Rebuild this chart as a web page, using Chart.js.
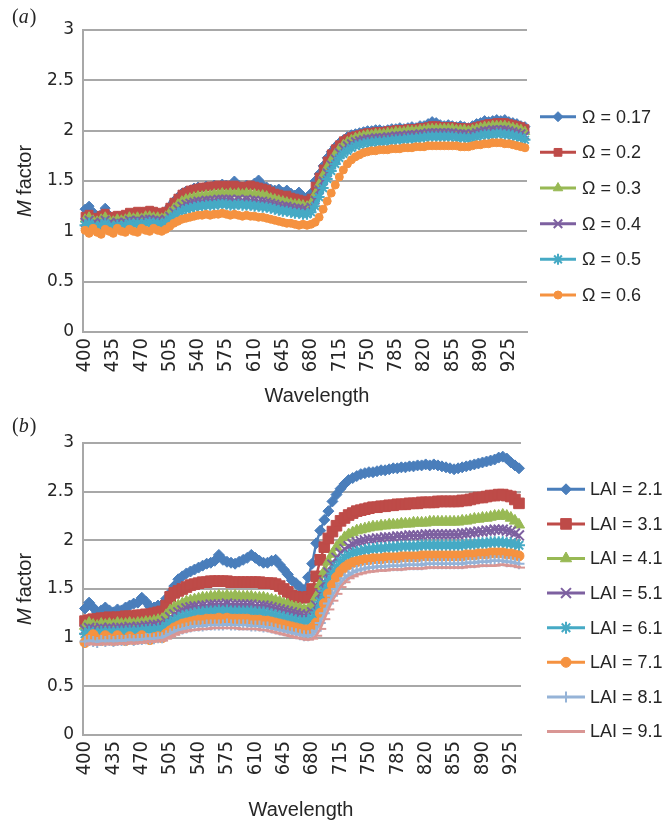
<!DOCTYPE html>
<html><head><meta charset="utf-8">
<script src="https://cdn.jsdelivr.net/npm/chart.js@4.4.1/dist/chart.umd.min.js"></script>
<style>
html,body{margin:0;padding:0;background:#fff;}
#wrap{position:relative;width:663px;height:820px;overflow:hidden;background:#fff;}
canvas{position:absolute;left:0;}
#ca{top:0;} #cb{top:410px;}
</style></head><body>
<div id="wrap"><canvas id="ca" width="663" height="410"></canvas><canvas id="cb" width="663" height="410"></canvas></div>
<script>
// ---------- categories ----------
const wavelengthsA = [400,405,410,415,420,425,430,435,440,445,450,455,460,465,470,475,480,485,490,495,500,505,510,515,520,525,530,535,540,545,550,555,560,565,570,575,580,585,590,595,600,605,610,615,620,625,630,635,640,645,650,655,660,665,670,675,680,685,690,695,700,705,710,715,720,725,730,735,740,745,750,755,760,765,770,775,780,785,790,795,800,805,810,815,820,825,830,835,840,845,850,855,860,865,870,875,880,885,890,895,900,905,910,915,920,925,930,935,940,945];
const wavelengthsB = [400,405,410,415,420,425,430,435,440,445,450,455,460,465,470,475,480,485,490,495,500,505,510,515,520,525,530,535,540,545,550,555,560,565,570,575,580,585,590,595,600,605,610,615,620,625,630,635,640,645,650,655,660,665,670,675,680,685,690,695,700,705,710,715,720,725,730,735,740,745,750,755,760,765,770,775,780,785,790,795,800,805,810,815,820,825,830,835,840,845,850,855,860,865,870,875,880,885,890,895,900,905,910,915,920,925,930,935];
const xTickLabels = ['400','435','470','505','540','575','610','645','680','715','750','785','820','855','890','925'];
const yTickLabels = ['0','0.5','1','1.5','2','2.5','3'];

// ---------- panel (a): M factor vs wavelength for clumping index ----------
const omegaLabels = ['Ω = 0.17','Ω = 0.2','Ω = 0.3','Ω = 0.4','Ω = 0.5','Ω = 0.6'];
const omega017 = [1.22,1.25,1.19,1.15,1.17,1.23,1.16,1.13,1.15,1.12,
 1.14,1.16,1.15,1.17,1.16,1.18,1.17,1.19,1.18,1.17,
 1.2,1.25,1.3,1.34,1.38,1.4,1.41,1.43,1.44,1.43,
 1.45,1.44,1.46,1.45,1.47,1.46,1.44,1.5,1.46,1.44,
 1.46,1.45,1.48,1.51,1.46,1.44,1.42,1.41,1.42,1.39,
 1.41,1.38,1.36,1.39,1.35,1.34,1.38,1.5,1.57,1.65,
 1.73,1.79,1.84,1.88,1.91,1.94,1.96,1.97,1.98,1.99,
 2.0,2.0,2.01,2.01,2.0,2.01,2.02,2.02,2.03,2.02,
 2.03,2.04,2.03,2.05,2.05,2.07,2.09,2.08,2.06,2.05,
 2.06,2.05,2.04,2.05,2.04,2.03,2.05,2.07,2.08,2.1,
 2.09,2.1,2.11,2.1,2.11,2.09,2.08,2.07,2.05,2.04];
const omega02 = [1.15,1.17,1.14,1.13,1.16,1.18,1.15,1.14,1.16,1.15,
 1.17,1.19,1.18,1.2,1.19,1.2,1.21,1.2,1.19,1.18,
 1.2,1.24,1.29,1.33,1.37,1.39,1.41,1.42,1.43,1.44,
 1.44,1.45,1.45,1.46,1.45,1.46,1.45,1.46,1.45,1.44,
 1.45,1.46,1.45,1.44,1.43,1.42,1.4,1.38,1.37,1.35,
 1.36,1.34,1.33,1.32,1.31,1.3,1.33,1.45,1.54,1.62,
 1.7,1.77,1.82,1.86,1.9,1.92,1.94,1.95,1.96,1.97,
 1.98,1.98,1.99,1.99,1.99,2.0,2.0,2.01,2.01,2.01,
 2.02,2.02,2.02,2.03,2.03,2.04,2.05,2.05,2.04,2.04,
 2.04,2.04,2.03,2.03,2.03,2.02,2.03,2.04,2.05,2.06,
 2.07,2.07,2.08,2.08,2.08,2.07,2.06,2.05,2.04,2.02];
const omega03 = [1.12,1.14,1.11,1.1,1.12,1.14,1.11,1.1,1.12,1.11,
 1.12,1.14,1.13,1.14,1.13,1.15,1.15,1.14,1.14,1.13,
 1.15,1.19,1.23,1.27,1.3,1.32,1.33,1.34,1.35,1.35,
 1.36,1.36,1.37,1.37,1.38,1.37,1.38,1.37,1.38,1.37,
 1.38,1.37,1.37,1.36,1.36,1.35,1.33,1.32,1.31,1.3,
 1.29,1.28,1.27,1.27,1.26,1.25,1.28,1.37,1.47,1.56,
 1.64,1.71,1.77,1.82,1.86,1.89,1.91,1.93,1.94,1.95,
 1.96,1.96,1.97,1.97,1.97,1.98,1.98,1.99,1.99,1.99,
 2.0,2.0,2.0,2.01,2.01,2.02,2.02,2.02,2.02,2.02,
 2.02,2.02,2.01,2.01,2.01,2.0,2.01,2.02,2.03,2.04,
 2.04,2.05,2.05,2.05,2.05,2.04,2.03,2.02,2.01,1.99];
const omega04 = [1.09,1.11,1.08,1.07,1.09,1.11,1.08,1.07,1.09,1.08,
 1.09,1.11,1.1,1.11,1.1,1.12,1.12,1.11,1.11,1.1,
 1.12,1.15,1.19,1.22,1.25,1.27,1.28,1.29,1.3,1.3,
 1.31,1.31,1.31,1.32,1.32,1.32,1.32,1.31,1.32,1.31,
 1.32,1.31,1.31,1.3,1.3,1.29,1.28,1.27,1.26,1.25,
 1.25,1.24,1.23,1.23,1.22,1.21,1.24,1.31,1.41,1.5,
 1.58,1.66,1.72,1.78,1.82,1.85,1.87,1.89,1.9,1.91,
 1.92,1.92,1.93,1.93,1.93,1.94,1.94,1.95,1.95,1.95,
 1.96,1.96,1.96,1.97,1.97,1.98,1.98,1.98,1.98,1.98,
 1.98,1.98,1.97,1.97,1.97,1.96,1.97,1.98,1.99,2.0,
 2.0,2.01,2.01,2.01,2.01,2.0,1.99,1.98,1.97,1.95];
const omega05 = [1.06,1.08,1.05,1.04,1.06,1.08,1.05,1.04,1.06,1.05,
 1.06,1.08,1.07,1.08,1.07,1.08,1.09,1.08,1.08,1.07,
 1.09,1.12,1.15,1.18,1.2,1.22,1.23,1.24,1.25,1.25,
 1.26,1.26,1.26,1.27,1.27,1.27,1.26,1.26,1.27,1.26,
 1.26,1.26,1.25,1.25,1.24,1.24,1.23,1.22,1.21,1.2,
 1.2,1.19,1.18,1.18,1.17,1.17,1.19,1.25,1.34,1.43,
 1.52,1.6,1.67,1.73,1.77,1.8,1.83,1.85,1.86,1.87,
 1.88,1.88,1.89,1.89,1.89,1.9,1.9,1.91,1.91,1.91,
 1.92,1.92,1.92,1.93,1.93,1.94,1.94,1.94,1.94,1.94,
 1.94,1.94,1.93,1.93,1.93,1.92,1.93,1.94,1.95,1.96,
 1.96,1.96,1.97,1.97,1.96,1.96,1.95,1.94,1.93,1.91];
const omega06 = [1.01,0.98,1.03,0.99,0.97,1.02,1.0,0.98,1.03,1.0,
 0.99,1.02,1.0,0.99,1.03,1.01,1.0,1.03,1.01,1.0,
 1.02,1.05,1.08,1.1,1.12,1.13,1.14,1.15,1.16,1.16,
 1.17,1.16,1.17,1.17,1.18,1.17,1.16,1.17,1.16,1.15,
 1.16,1.15,1.15,1.14,1.14,1.13,1.12,1.11,1.1,1.09,
 1.08,1.08,1.07,1.06,1.07,1.06,1.07,1.09,1.14,1.22,
 1.3,1.38,1.46,1.54,1.61,1.67,1.71,1.74,1.76,1.78,
 1.79,1.8,1.8,1.81,1.81,1.81,1.82,1.82,1.82,1.83,
 1.83,1.83,1.84,1.84,1.84,1.85,1.85,1.85,1.85,1.85,
 1.85,1.85,1.85,1.84,1.84,1.84,1.85,1.86,1.86,1.87,
 1.87,1.88,1.88,1.88,1.87,1.87,1.86,1.85,1.84,1.83];

// ---------- panel (b): M factor vs wavelength for LAI ----------
const laiLabels = ['LAI = 2.1','LAI = 3.1','LAI = 4.1','LAI = 5.1','LAI = 6.1','LAI = 7.1','LAI = 8.1','LAI = 9.1'];
const lai21 = [1.3,1.36,1.31,1.26,1.28,1.31,1.28,1.26,1.29,1.28,
 1.31,1.33,1.35,1.36,1.41,1.37,1.32,1.31,1.33,1.34,
 1.4,1.46,1.53,1.6,1.63,1.66,1.68,1.7,1.72,1.74,
 1.76,1.77,1.79,1.85,1.8,1.78,1.77,1.76,1.78,1.8,
 1.82,1.85,1.82,1.79,1.77,1.77,1.79,1.8,1.75,1.7,
 1.65,1.59,1.56,1.52,1.49,1.62,1.76,1.97,2.1,2.21,
 2.3,2.4,2.47,2.53,2.58,2.62,2.64,2.66,2.68,2.69,
 2.7,2.7,2.71,2.72,2.72,2.73,2.74,2.74,2.75,2.75,
 2.76,2.76,2.77,2.77,2.78,2.77,2.78,2.77,2.76,2.75,
 2.74,2.73,2.74,2.75,2.76,2.77,2.78,2.79,2.8,2.81,
 2.82,2.83,2.85,2.86,2.84,2.8,2.77,2.74];
const lai31 = [1.17,1.18,1.19,1.19,1.2,1.2,1.21,1.2,1.21,1.21,
 1.22,1.22,1.22,1.23,1.23,1.24,1.24,1.25,1.26,1.27,
 1.33,1.42,1.46,1.48,1.5,1.52,1.54,1.55,1.56,1.57,
 1.57,1.58,1.58,1.58,1.58,1.58,1.57,1.57,1.57,1.57,
 1.57,1.57,1.57,1.57,1.56,1.56,1.56,1.55,1.53,1.5,
 1.47,1.43,1.42,1.41,1.41,1.42,1.5,1.63,1.8,1.93,
 2.02,2.09,2.15,2.2,2.23,2.26,2.28,2.3,2.31,2.32,
 2.33,2.34,2.34,2.35,2.35,2.36,2.36,2.37,2.37,2.37,
 2.38,2.38,2.38,2.39,2.39,2.39,2.39,2.4,2.4,2.4,
 2.4,2.4,2.4,2.41,2.41,2.42,2.43,2.44,2.44,2.45,
 2.46,2.46,2.47,2.47,2.46,2.45,2.42,2.38];
const lai41 = [1.12,1.15,1.13,1.12,1.14,1.13,1.14,1.13,1.15,1.14,
 1.14,1.15,1.14,1.15,1.15,1.16,1.16,1.17,1.18,1.19,
 1.23,1.28,1.31,1.33,1.35,1.37,1.38,1.39,1.4,1.41,
 1.41,1.42,1.42,1.43,1.42,1.43,1.42,1.43,1.42,1.42,
 1.42,1.42,1.41,1.41,1.41,1.4,1.39,1.38,1.37,1.35,
 1.34,1.32,1.31,1.3,1.29,1.29,1.33,1.42,1.55,1.68,
 1.78,1.86,1.93,1.98,2.03,2.06,2.08,2.1,2.11,2.12,
 2.13,2.14,2.14,2.15,2.15,2.16,2.16,2.16,2.17,2.17,
 2.17,2.18,2.18,2.18,2.18,2.19,2.19,2.19,2.19,2.19,
 2.19,2.19,2.19,2.2,2.2,2.21,2.22,2.22,2.23,2.23,
 2.24,2.25,2.25,2.26,2.25,2.23,2.2,2.16];
const lai51 = [1.08,1.1,1.09,1.08,1.1,1.09,1.1,1.09,1.1,1.1,
 1.1,1.11,1.1,1.11,1.11,1.12,1.12,1.13,1.13,1.14,
 1.17,1.21,1.24,1.26,1.28,1.3,1.31,1.32,1.32,1.33,
 1.33,1.34,1.34,1.34,1.34,1.35,1.34,1.34,1.34,1.34,
 1.34,1.34,1.33,1.33,1.33,1.32,1.31,1.3,1.29,1.28,
 1.27,1.26,1.25,1.24,1.23,1.23,1.26,1.33,1.45,1.57,
 1.67,1.75,1.82,1.87,1.91,1.94,1.96,1.98,1.99,2.0,
 2.01,2.01,2.02,2.02,2.03,2.03,2.03,2.04,2.04,2.04,
 2.05,2.05,2.05,2.05,2.06,2.06,2.06,2.06,2.06,2.06,
 2.06,2.06,2.06,2.07,2.07,2.08,2.08,2.09,2.09,2.1,
 2.1,2.11,2.11,2.11,2.1,2.09,2.07,2.05];
const lai61 = [1.04,1.06,1.05,1.04,1.06,1.05,1.06,1.05,1.06,1.06,
 1.06,1.07,1.06,1.07,1.07,1.08,1.08,1.08,1.09,1.09,
 1.12,1.15,1.18,1.2,1.22,1.23,1.24,1.25,1.26,1.26,
 1.27,1.27,1.27,1.28,1.27,1.28,1.27,1.27,1.27,1.27,
 1.27,1.27,1.26,1.26,1.26,1.25,1.24,1.23,1.22,1.21,
 1.2,1.19,1.18,1.17,1.17,1.17,1.2,1.26,1.37,1.48,
 1.58,1.66,1.73,1.78,1.82,1.85,1.87,1.88,1.89,1.9,
 1.91,1.91,1.92,1.92,1.92,1.93,1.93,1.93,1.94,1.94,
 1.94,1.94,1.94,1.95,1.95,1.95,1.95,1.95,1.95,1.95,
 1.95,1.95,1.95,1.95,1.96,1.96,1.96,1.97,1.97,1.97,
 1.98,1.98,1.98,1.98,1.97,1.97,1.96,1.95];
const lai71 = [0.95,0.99,1.03,0.98,0.97,1.02,0.99,0.97,1.02,0.98,
 0.97,1.01,0.98,0.99,1.02,0.99,0.98,1.0,1.01,1.0,
 1.04,1.07,1.1,1.12,1.14,1.15,1.16,1.17,1.18,1.18,
 1.19,1.19,1.19,1.2,1.19,1.2,1.19,1.19,1.19,1.19,
 1.19,1.18,1.18,1.18,1.17,1.17,1.16,1.15,1.14,1.13,
 1.12,1.11,1.1,1.09,1.08,1.08,1.1,1.15,1.25,1.35,
 1.45,1.54,1.62,1.68,1.72,1.75,1.77,1.78,1.79,1.8,
 1.8,1.81,1.81,1.81,1.82,1.82,1.82,1.82,1.83,1.83,
 1.83,1.83,1.83,1.84,1.84,1.84,1.84,1.84,1.84,1.84,
 1.84,1.84,1.84,1.84,1.85,1.85,1.85,1.86,1.86,1.86,
 1.87,1.87,1.87,1.87,1.86,1.86,1.85,1.84];
const lai81 = [0.96,0.97,0.96,0.95,0.97,0.96,0.97,0.96,0.97,0.97,
 0.97,0.98,0.97,0.98,0.98,0.99,0.99,0.99,1.0,1.0,
 1.02,1.04,1.06,1.08,1.09,1.1,1.11,1.12,1.12,1.12,
 1.13,1.13,1.13,1.13,1.13,1.14,1.13,1.13,1.13,1.13,
 1.13,1.12,1.12,1.12,1.11,1.11,1.1,1.09,1.08,1.07,
 1.06,1.05,1.04,1.03,1.02,1.02,1.03,1.07,1.15,1.25,
 1.35,1.43,1.5,1.56,1.61,1.64,1.67,1.69,1.7,1.71,
 1.72,1.72,1.73,1.73,1.73,1.74,1.74,1.74,1.74,1.75,
 1.75,1.75,1.75,1.75,1.76,1.76,1.76,1.76,1.76,1.76,
 1.76,1.76,1.76,1.76,1.77,1.77,1.77,1.78,1.78,1.78,
 1.79,1.79,1.79,1.79,1.78,1.78,1.77,1.76];
const lai91 = [0.93,0.94,0.93,0.93,0.94,0.93,0.94,0.93,0.94,0.94,
 0.94,0.95,0.94,0.95,0.95,0.96,0.96,0.96,0.97,0.97,
 0.99,1.01,1.03,1.05,1.06,1.07,1.08,1.08,1.09,1.09,
 1.09,1.1,1.1,1.1,1.1,1.1,1.1,1.1,1.09,1.09,
 1.09,1.09,1.09,1.08,1.08,1.07,1.06,1.05,1.04,1.03,
 1.02,1.01,1.0,0.99,0.98,0.98,0.99,1.02,1.09,1.19,
 1.29,1.38,1.45,1.52,1.57,1.61,1.63,1.65,1.66,1.67,
 1.68,1.68,1.69,1.69,1.69,1.7,1.7,1.7,1.7,1.71,
 1.71,1.71,1.71,1.71,1.72,1.72,1.72,1.72,1.72,1.72,
 1.72,1.72,1.72,1.72,1.73,1.73,1.73,1.74,1.74,1.74,
 1.74,1.74,1.75,1.75,1.74,1.74,1.73,1.72];

// ---------- styling ----------
const COLORS = ['#4a7ebb','#be4b48','#98b954','#7d60a0','#46aac5','#f59240','#95b3d7','#d99694'];
const STYLES = ['rectRot','rect','triangle','crossRot','star','circle','cross','dash'];
const RAD_A = [5,5.5,5.5,6,5.5,4];
const RAD_B = [5.5,7.5,6.5,7,6,5,5.5,6];
const GRID = '#a8a8a8';
const TXT = '#262626';
const SANS = '"Liberation Sans", Arial, sans-serif';

function makeDatasets(series, labels, radii, lw){
  const n = series.length;
  return series.map((d,i)=>({
    label: labels[i],
    data: d,
    borderColor: COLORS[i],
    backgroundColor: COLORS[i],
    pointBackgroundColor: COLORS[i],
    pointBorderColor: COLORS[i],
    pointStyle: STYLES[i],
    pointRadius: radii[i],
    pointBorderWidth: (['crossRot','star','cross','dash'].includes(STYLES[i])) ? 2 : 1,
    borderWidth: lw,
    tension: 0,
    clip: false,
    order: n - 1 - i
  }));
}

function decor(cfg){
  return {
    id: 'decor' + cfg.panel,
    afterDraw(chart){
      const ctx = chart.ctx, ca = chart.chartArea;
      ctx.save();
      ctx.fillStyle = TXT;
      ctx.textAlign = 'left';
      ctx.textBaseline = 'alphabetic';
      // panel label "(a)"
      let x = 12;
      ctx.font = '20px "Liberation Serif", serif';
      ctx.fillText('(', x, cfg.panelY); x += ctx.measureText('(').width;
      ctx.font = 'italic 20px "Liberation Serif", serif';
      ctx.fillText(cfg.panel, x, cfg.panelY); x += ctx.measureText(cfg.panel).width + 1;
      ctx.font = '20px "Liberation Serif", serif';
      ctx.fillText(')', x, cfg.panelY);
      // y-axis title, italic M
      ctx.save();
      ctx.translate(25, (ca.top + ca.bottom) / 2);
      ctx.rotate(-Math.PI / 2);
      ctx.textBaseline = 'middle';
      ctx.font = 'italic 20px ' + SANS;
      const wM = ctx.measureText('M').width;
      ctx.font = '20px ' + SANS;
      const wR = ctx.measureText(' factor').width;
      let sx = -(wM + wR) / 2;
      ctx.font = 'italic 20px ' + SANS;
      ctx.fillText('M', sx, 0);
      ctx.font = '20px ' + SANS;
      ctx.fillText(' factor', sx + wM, 0);
      ctx.restore();
      // x-axis title
      ctx.font = '20px ' + SANS;
      ctx.textAlign = 'center';
      ctx.fillText('Wavelength', cfg.xTitleX, cfg.xTitleY);
      // legend
      const ds = chart.data.datasets;
      ds.forEach((d, i) => {
        const y = cfg.legY0 + i * cfg.legStep;
        ctx.strokeStyle = d.borderColor;
        ctx.lineWidth = 3;
        ctx.beginPath(); ctx.moveTo(cfg.legX1, y); ctx.lineTo(cfg.legX2, y); ctx.stroke();
        ctx.fillStyle = d.borderColor;
        ctx.lineWidth = d.pointBorderWidth;
        if (Chart.helpers && Chart.helpers.drawPoint) {
          Chart.helpers.drawPoint(ctx, {pointStyle: d.pointStyle, radius: d.pointRadius, rotation: 0, borderWidth: d.pointBorderWidth}, (cfg.legX1 + cfg.legX2) / 2, y);
        }
        ctx.fillStyle = TXT;
        ctx.font = '18px ' + SANS;
        ctx.textAlign = 'left';
        ctx.textBaseline = 'middle';
        ctx.fillText(d.label, cfg.legTextX, y + 1);
      });
      ctx.restore();
    }
  };
}

function makeChart(id, labels, datasets, opt){
  return new Chart(document.getElementById(id), {
    type: 'line',
    data: { labels: labels.map(String), datasets: datasets },
    options: {
      responsive: false,
      animation: false,
      devicePixelRatio: 1,
      layout: { padding: { left: 0, right: opt.padRight, top: opt.padTop, bottom: 0 } },
      plugins: { legend: { display: false }, tooltip: { enabled: false } },
      scales: {
        x: {
          type: 'category',
          offset: true,
          grid: { display: false, drawTicks: false },
          border: { display: true, color: GRID, width: 2 },
          ticks: {
            autoSkip: false, minRotation: 90, maxRotation: 90, padding: 6,
            color: TXT,
            font: { family: '"Liberation Sans Narrow", "DejaVu Sans Condensed", "Liberation Sans", sans-serif', size: 20 },
            callback: function(v, i){ const s = String(labels[i]); return xTickLabels.includes(s) ? s : ''; }
          },
          afterFit: function(s){ s.height = opt.xHeight; }
        },
        y: {
          min: 0, max: 3,
          grid: { color: GRID, lineWidth: 2, drawTicks: false },
          border: { display: true, color: GRID, width: 2 },
          ticks: {
            stepSize: 0.5, padding: 9, color: TXT,
            font: { family: '"DejaVu Sans", sans-serif', size: 17 },
            callback: function(v){ const s = String(Math.round(v * 10) / 10); return yTickLabels.includes(s) ? s : ''; }
          },
          afterFit: function(s){ s.width = 83; }
        }
      }
    },
    plugins: [decor(opt.decor)]
  });
}

makeChart('ca', wavelengthsA,
  makeDatasets([omega017, omega02, omega03, omega04, omega05, omega06], omegaLabels, RAD_A, 2.5),
  { padRight: 136, padTop: 30, xHeight: 78,
    decor: { panel: 'a', panelY: 23, xTitleX: 317, xTitleY: 402, legX1: 540, legX2: 576, legTextX: 582, legY0: 116.7, legStep: 35.66 } });

makeChart('cb', wavelengthsB,
  makeDatasets([lai21, lai31, lai41, lai51, lai61, lai71, lai81, lai91], laiLabels, RAD_B, 2.5),
  { padRight: 142, padTop: 33, xHeight: 85,
    decor: { panel: 'b', panelY: 22, xTitleX: 301, xTitleY: 406, legX1: 547, legX2: 585, legTextX: 590, legY0: 79.3, legStep: 34.6 } });
</script>
</body></html>
